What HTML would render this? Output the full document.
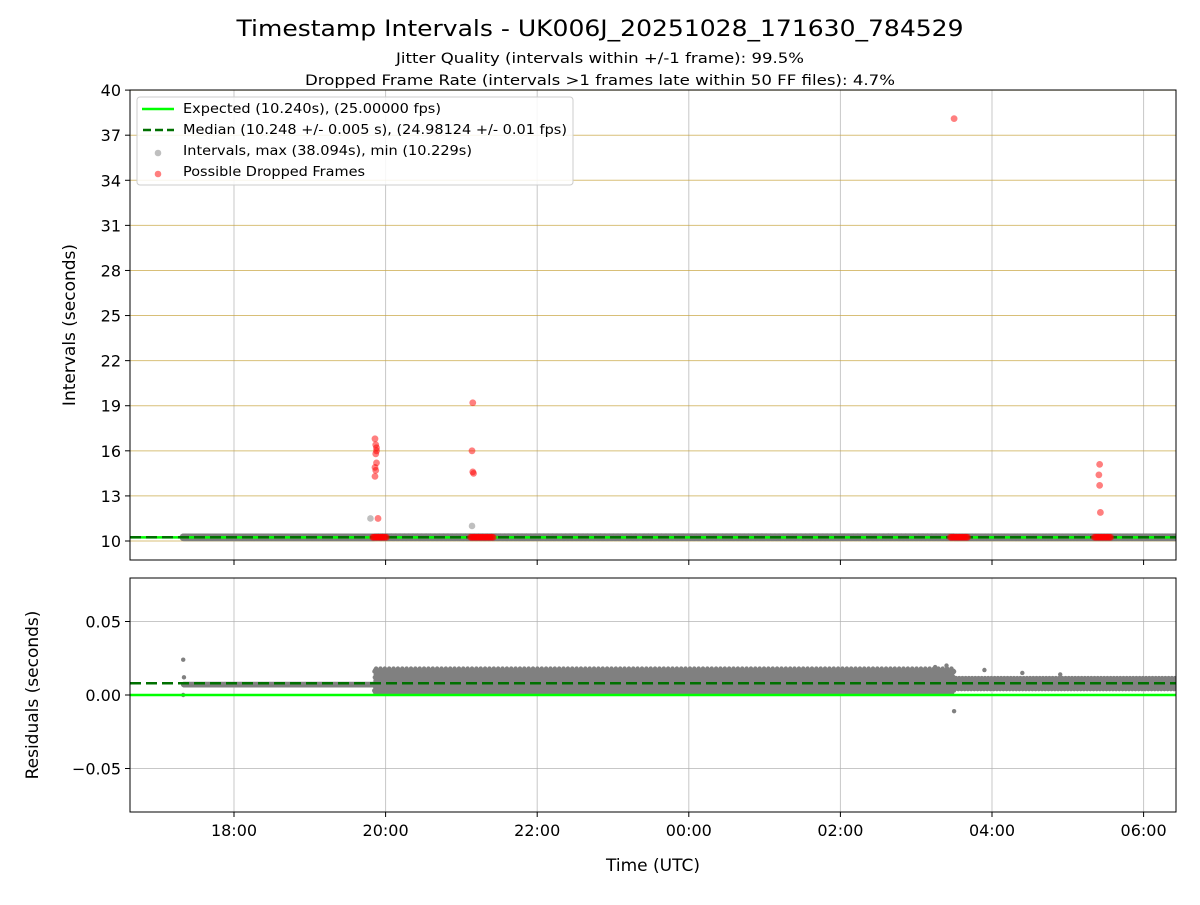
<!DOCTYPE html>
<html><head><meta charset="utf-8"><style>
body{margin:0;background:#fff;font-family:"Liberation Sans","DejaVu Sans",sans-serif}
svg text{font-family:"DejaVu Sans","Liberation Sans",sans-serif}
</style></head><body>
<svg id="c" width="1200" height="900" xmlns="http://www.w3.org/2000/svg">
<text x="600" y="36" font-size="22" text-anchor="middle" textLength="727" lengthAdjust="spacingAndGlyphs">Timestamp Intervals - UK006J_20251028_171630_784529</text>
<text x="600" y="63" font-size="14" text-anchor="middle" textLength="408" lengthAdjust="spacingAndGlyphs">Jitter Quality (intervals within +/-1 frame): 99.5%</text>
<text x="600" y="85" font-size="14" text-anchor="middle" textLength="590" lengthAdjust="spacingAndGlyphs">Dropped Frame Rate (intervals &gt;1 frames late within 50 FF files): 4.7%</text>
<g id="topPlot"></g>
<g id="botPlot"></g>
</svg>
<script>
// data (time in hours since 16:00 UTC)
const xTicks=[2,4,6,8,10,12,14];
const xTickLabels=["18:00","20:00","22:00","00:00","02:00","04:00","06:00"];
const topTicks=[10,13,16,19,22,25,28,31,34,37,40];
const botTicks=[-0.05,0,0.05];
const botTickLabels=["\u22120.05","0.00","0.05"];
const expected=10.240, median=10.248;
const segments=[[1.33,3.85],[3.85,11.5],[11.5,14.45]];
const patA=[0.007,0.0068,0.0072,0.0075,0.0066,0.0071,0.0069];
const patB=[0.003,0.016,0.008,0.012,0.002,0.017,0.005,0.010,0.014,0.004,0.018,0.007,0.011,0.001,0.015,0.006,0.013,0.009,0.003,0.016,0.0165,0.0155,0.012];
const patC=[0.006,0.009,0.005,0.008,0.011,0.004,0.007,0.010,0.006,0.008,0.0115,0.0045,0.0095,0.0065,0.0105,0.005,0.008];
const outT=[1.33,1.34,1.33,11.5,11.9,12.4,12.9,11.25,11.4];
const outR=[0.024,0.012,0.0,-0.011,0.017,0.015,0.014,0.019,0.02];
const greyBigT=[3.8,5.14];
const greyBigV=[11.5,11.0];
const dropT=[3.86,3.87,3.88,3.88,3.87,3.88,3.86,3.87,3.86,3.9,5.15,5.14,5.15,5.16,11.5,13.42,13.41,13.42,13.43];
const dropV=[16.8,16.4,16.2,16.0,15.8,15.2,14.9,14.7,14.3,11.5,19.2,16.0,14.6,14.5,38.1,15.1,14.4,13.7,11.9];
const dropBands=[[3.83,4.02],[5.12,5.42],[11.45,11.68],[13.35,13.57]];

const NS="http://www.w3.org/2000/svg";
const X0=130,X1=1176;
const xs=h=>X0+(h-0.628)*75.8;
const ty=v=>541-(v-10)*15.03;
const by=v=>695-v*1470;
function mk(p,tag,a){const e=document.createElementNS(NS,tag);for(const k in a)e.setAttribute(k,a[k]);p.appendChild(e);return e;}
const gTop=document.getElementById('topPlot'),gBot=document.getElementById('botPlot');

xTicks.forEach(t=>{[[gTop,90,560],[gBot,578,812]].forEach(([g,a,b])=>{const l=mk(g,'line',{x1:xs(t),x2:xs(t),y1:a,y2:b,stroke:'#b0b0b0','stroke-width':1,opacity:0.7});

});});
topTicks.forEach(v=>{const l=mk(gTop,'line',{x1:X0,x2:X1,y1:ty(v),y2:ty(v),stroke:'#c8a440','stroke-width':1,opacity:0.7});

});
botTicks.forEach(v=>{const l=mk(gBot,'line',{x1:X0,x2:X1,y1:by(v),y2:by(v),stroke:'#b0b0b0','stroke-width':1,opacity:0.7});

});

const pts=[];
segments.forEach((s,i)=>{const pat=[patA,patB,patC][i];let k=0;for(let t=s[0];t<s[1];t+=0.0025){pts.push([t,pat[k%pat.length]]);k++;}});
const clipT=mk(gTop,'clipPath',{id:'ct'});mk(clipT,'rect',{x:X0,y:90,width:X1-X0,height:470});
const clipB=mk(gBot,'clipPath',{id:'cb'});mk(clipB,'rect',{x:X0,y:578,width:X1-X0,height:234});
const gT=mk(gTop,'g',{'clip-path':'url(#ct)'}),gB=mk(gBot,'g',{'clip-path':'url(#cb)'});

// top grey intervals (behind lines)
pts.forEach(p=>{const c=mk(gT,'circle',{cx:xs(p[0]),cy:ty(expected+p[1]),r:3.8,fill:'#808080','fill-opacity':0.5});

});
greyBigT.forEach((t,i)=>{const c=mk(gT,'circle',{cx:xs(t),cy:ty(greyBigV[i]),r:3.3,fill:'#808080','fill-opacity':0.5});

});
let l=mk(gT,'line',{x1:X0,x2:X1,y1:ty(expected),y2:ty(expected),stroke:'#00ff00','stroke-width':2.5});


l=mk(gT,'line',{x1:X0,x2:X1,y1:ty(median),y2:ty(median),stroke:'#007000','stroke-width':2.5,'stroke-dasharray':'11,5'});


dropBands.forEach(b=>{for(let t=b[0];t<=b[1];t+=0.012){const c=mk(gT,'circle',{cx:xs(t),cy:ty(expected+0.01),r:3.4,fill:'#ff0000','fill-opacity':0.5});

}});
dropT.forEach((t,i)=>{const c=mk(gT,'circle',{cx:xs(t),cy:ty(dropV[i]),r:3.4,fill:'#ff0000','fill-opacity':0.5});

});

// residuals
pts.forEach(p=>{const c=mk(gB,'circle',{cx:xs(p[0]),cy:by(p[1]),r:2.2,fill:'#808080'});

});
outT.forEach((t,i)=>{const c=mk(gB,'circle',{cx:xs(t),cy:by(outR[i]),r:2.2,fill:'#808080'});

});
l=mk(gB,'line',{x1:X0,x2:X1,y1:by(0),y2:by(0),stroke:'#00ff00','stroke-width':2.5});


l=mk(gB,'line',{x1:X0,x2:X1,y1:by(median-expected),y2:by(median-expected),stroke:'#007000','stroke-width':2.5,'stroke-dasharray':'11,5'});



[[gTop,90,470],[gBot,578,234]].forEach(([g,y,h])=>{const r=mk(g,'rect',{x:X0,y:y,width:X1-X0,height:h,fill:'none',stroke:'#000','stroke-width':1});

});
xTicks.forEach((t,i)=>{mk(gTop,'line',{x1:xs(t),x2:xs(t),y1:560,y2:565,stroke:'#000'});mk(gBot,'line',{x1:xs(t),x2:xs(t),y1:812,y2:817,stroke:'#000'});
const tx=mk(gBot,'text',{x:xs(t),y:836,'font-size':16,'text-anchor':'middle'});tx.textContent=xTickLabels[i];

});
topTicks.forEach(v=>{mk(gTop,'line',{x1:X0-5,x2:X0,y1:ty(v),y2:ty(v),stroke:'#000'});
const tx=mk(gTop,'text',{x:X0-9,y:ty(v)+6,'font-size':16,'text-anchor':'end'});tx.textContent=v;

});
botTicks.forEach((v,i)=>{mk(gBot,'line',{x1:X0-5,x2:X0,y1:by(v),y2:by(v),stroke:'#000'});
const tx=mk(gBot,'text',{x:X0-9,y:by(v)+6,'font-size':16,'text-anchor':'end'});tx.textContent=botTickLabels[i];

});
let t=mk(gTop,'text',{x:0,y:0,'font-size':17,'text-anchor':'middle',transform:'translate(75,325) rotate(-90)'});t.textContent='Intervals (seconds)';


t=mk(gBot,'text',{x:0,y:0,'font-size':17,'text-anchor':'middle',transform:'translate(38,695) rotate(-90)'});t.textContent='Residuals (seconds)';


t=mk(gBot,'text',{x:653,y:871,'font-size':17,'text-anchor':'middle'});t.textContent='Time (UTC)';



const lg=mk(gTop,'g',{});


mk(lg,'rect',{x:137,y:97,width:436,height:88,rx:3,fill:'#fff','fill-opacity':0.85,stroke:'#ccc'});
mk(lg,'line',{x1:142,x2:174,y1:109,y2:109,stroke:'#00ff00','stroke-width':2.5});
mk(lg,'line',{x1:143,x2:174,y1:130,y2:130,stroke:'#007000','stroke-width':2.5,'stroke-dasharray':'8,4'});
mk(lg,'circle',{cx:158,cy:153,r:3.3,fill:'#808080','fill-opacity':0.5});
mk(lg,'circle',{cx:158,cy:174,r:3.3,fill:'#ff0000','fill-opacity':0.5});
const lt=["Expected (10.240s), (25.00000 fps)","Median (10.248 +/- 0.005 s), (24.98124 +/- 0.01 fps)","Intervals, max (38.094s), min (10.229s)","Possible Dropped Frames"];
const lw=[258,384,289,182];
lt.forEach((s,i)=>{const e=mk(lg,'text',{x:183,y:113+i*21,'font-size':13,textLength:lw[i],lengthAdjust:'spacingAndGlyphs'});e.textContent=s;

});
</script>
</body></html>
